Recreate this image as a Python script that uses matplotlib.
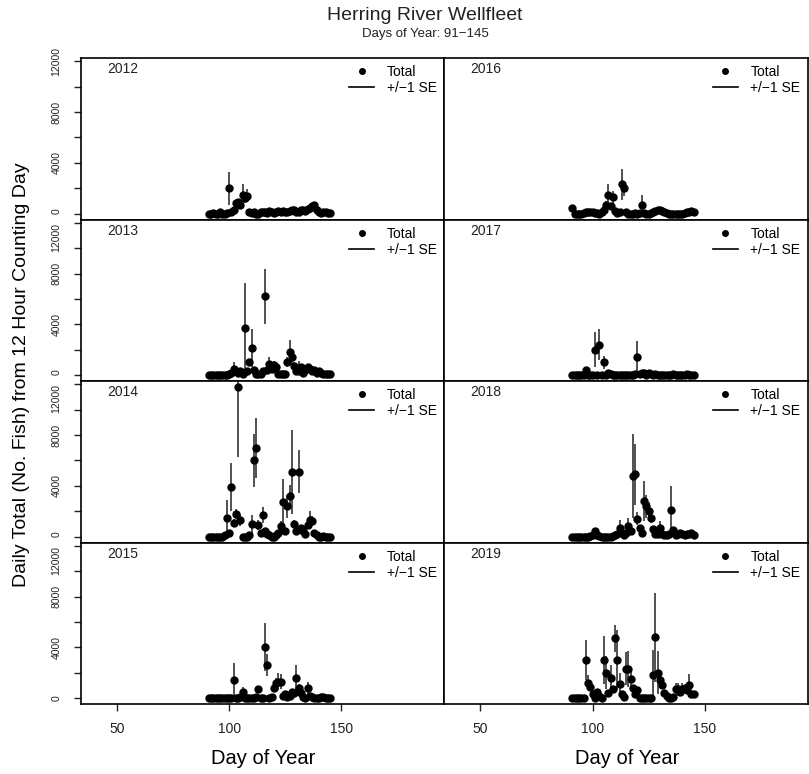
import matplotlib
matplotlib.use("Agg")
import matplotlib.pyplot as plt
from matplotlib.lines import Line2D

plt.rcParams['font.family'] = ['Liberation Sans', 'DejaVu Sans']

# day of year 91..145, one count per day
days = list(range(91, 146))

total_2012 = [0, 0, 50, 0, 0, 100, 0, 0, 50, 2000, 100,
              300, 800, 900, 700, 1500, 1200, 1400, 100, 50, 100, 0,
              0, 100, 150, 100, 50, 200, 100, 50, 150, 200, 100,
              200, 150, 100, 200, 300, 250, 100, 150, 250, 300, 200,
              350, 450, 600, 650, 300, 100, 50, 150, 100, 80, 50]
se_2012 = [0, 0, 0, 0, 0, 0, 0, 0, 0, 1300, 0,
           100, 300, 200, 200, 800, 400, 500, 0, 0, 0, 0,
           0, 0, 50, 0, 0, 50, 0, 0, 0, 50, 0,
           50, 0, 0, 50, 100, 50, 0, 0, 50, 100, 50,
           100, 100, 150, 100, 50, 0, 0, 0, 0, 0, 0]

total_2013 = [0, 0, 0, 0, 0, 0, 0, 0, 0, 100, 200,
              500, 300, 200, 300, 100, 3700, 300, 1000, 2100, 400, 100,
              50, 100, 300, 6200, 400, 900, 500, 800, 600, 100, 50,
              100, 100, 1000, 1800, 1400, 700, 300, 500, 600, 200, 400,
              600, 500, 300, 400, 200, 300, 200, 100, 50, 100, 50]
se_2013 = [0, 0, 0, 0, 0, 0, 0, 0, 0, 0, 100,
           500, 200, 100, 100, 0, 3600, 200, 300, 1500, 200, 0,
           0, 0, 100, 2150, 300, 500, 200, 300, 200, 0, 0,
           0, 0, 400, 1000, 600, 300, 100, 600, 200, 100, 200,
           300, 200, 100, 200, 100, 100, 0, 0, 0, 0, 0]

total_2014 = [0, 0, 0, 0, 0, 0, 0, 100, 1500, 300, 3900,
              1100, 1800, 11800, 1300, 0, 0, 0, 100, 1000, 6000, 7000,
              900, 300, 1700, 400, 200, 100, 0, 0, 100, 300, 800,
              2700, 400, 2400, 3200, 5100, 1000, 400, 5100, 700, 400, 200,
              900, 1300, 1200, 300, 100, 0, 0, 50, 0, 0, 0]
se_2014 = [0, 0, 0, 0, 0, 0, 0, 0, 1400, 0, 1900,
           300, 400, 5500, 500, 0, 0, 0, 0, 700, 2100, 2350,
           400, 100, 600, 0, 0, 0, 0, 0, 0, 0, 400,
           1800, 100, 900, 900, 3300, 300, 100, 1700, 200, 100, 0,
           300, 700, 400, 0, 0, 0, 0, 0, 0, 0, 0]

total_2015 = [0, 0, 0, 0, 0, 0, 0, 0, 0, 0, 0,
              1400, 0, 0, 100, 500, 0, 0, 0, 0, 0, 100,
              700, 0, 0, 4000, 2600, 0, 100, 800, 1200, 1300, 1300,
              200, 300, 100, 200, 500, 400, 1600, 800, 400, 100, 0,
              800, 200, 100, 0, 0, 0, 50, 100, 0, 0, 0]
se_2015 = [0, 0, 0, 0, 0, 0, 0, 0, 0, 0, 0,
           1400, 0, 0, 0, 400, 0, 0, 0, 0, 0, 0,
           100, 0, 0, 1900, 900, 0, 0, 300, 400, 700, 600,
           0, 0, 0, 0, 100, 0, 1000, 300, 0, 0, 0,
           500, 0, 0, 0, 0, 0, 0, 0, 0, 0, 0]

total_2016 = [400, 0, 0, 0, 0, 50, 100, 150, 150, 100, 50,
              50, 0, 100, 300, 700, 1500, 600, 1300, 200, 50, 100,
              2300, 2000, 100, 0, 0, 0, 50, 0, 50, 700, 50,
              0, 0, 50, 100, 200, 300, 300, 200, 100, 50, 0,
              0, 0, 0, 0, 0, 0, 50, 100, 100, 200, 100]
se_2016 = [0, 0, 0, 0, 0, 0, 0, 0, 0, 0, 0,
           0, 0, 0, 100, 300, 800, 200, 500, 0, 0, 0,
           1200, 600, 0, 0, 0, 0, 0, 0, 0, 800, 0,
           0, 0, 0, 0, 0, 0, 0, 0, 0, 0, 0,
           0, 0, 0, 0, 0, 0, 0, 0, 0, 0, 0]

total_2017 = [0, 0, 0, 0, 0, 0, 400, 0, 0, 0, 2000,
              0, 2400, 0, 1000, 0, 200, 100, 0, 0, 0, 0,
              0, 0, 0, 0, 0, 0, 50, 1400, 100, 200, 150,
              0, 150, 100, 0, 50, 0, 0, 0, 0, 0, 0,
              0, 50, 0, 0, 0, 0, 0, 50, 0, 0, 0]
se_2017 = [0, 0, 0, 0, 0, 0, 100, 0, 0, 0, 1400,
           0, 1200, 0, 500, 0, 0, 0, 0, 0, 0, 0,
           0, 0, 0, 0, 0, 0, 0, 1300, 0, 0, 0,
           0, 0, 0, 0, 0, 0, 0, 0, 0, 0, 0,
           0, 0, 0, 0, 0, 0, 0, 0, 0, 0, 0]

total_2018 = [0, 0, 0, 0, 0, 0, 0, 0, 50, 100, 400,
              100, 50, 0, 0, 0, 0, 0, 50, 100, 200, 700,
              300, 100, 300, 850, 400, 4800, 4900, 1400, 700, 300, 2800,
              2400, 2000, 1500, 600, 200, 200, 700, 200, 100, 100, 200,
              2100, 500, 100, 200, 300, 200, 100, 200, 200, 300, 100]
se_2018 = [0, 0, 0, 0, 0, 0, 0, 0, 0, 0, 200,
           0, 0, 0, 0, 0, 0, 0, 0, 0, 0, 600,
           0, 0, 0, 600, 0, 3300, 2400, 500, 200, 0, 1600,
           900, 700, 400, 0, 0, 0, 500, 0, 0, 0, 0,
           1900, 0, 0, 0, 0, 0, 0, 0, 0, 0, 0]

total_2019 = [0, 0, 0, 0, 0, 0, 3000, 1200, 900, 300, 0,
              500, 200, 0, 3000, 2000, 400, 1600, 700, 4700, 3000, 1100,
              300, 100, 2300, 2300, 1500, 800, 300, 600, 0, 0, 0,
              0, 0, 0, 1800, 4800, 2000, 1400, 1000, 400, 200, 0,
              0, 100, 700, 700, 500, 700, 800, 600, 1000, 300, 300]
se_2019 = [0, 0, 0, 0, 0, 0, 1600, 600, 300, 0, 0,
           200, 0, 0, 1900, 1300, 0, 1000, 0, 1100, 2400, 900,
           0, 0, 1300, 1400, 600, 0, 0, 0, 0, 0, 0,
           0, 0, 0, 2000, 3500, 1700, 400, 0, 0, 0, 0,
           0, 0, 500, 500, 0, 500, 0, 0, 900, 0, 0]

# left column 2012-2015, right column 2016-2019
left_col = [(2012, total_2012, se_2012), (2013, total_2013, se_2013),
            (2014, total_2014, se_2014), (2015, total_2015, se_2015)]
right_col = [(2016, total_2016, se_2016), (2017, total_2017, se_2017),
             (2018, total_2018, se_2018), (2019, total_2019, se_2019)]

fig, axes = plt.subplots(4, 2, figsize=(8.09, 7.74), dpi=100)
fig.subplots_adjust(left=81/809, right=808/809, bottom=1 - 704/774, top=1 - 58/774,
                    wspace=0, hspace=0)

for col, panels in enumerate([left_col, right_col]):
    for row, (year, tot, se) in enumerate(panels):
        ax = axes[row, col]
        ax.errorbar(days, tot, yerr=se, fmt='o', ms=5, color='black',
                    ecolor='#333333', elinewidth=1.2, capsize=0)
        ax.set_xlim(34, 196)
        ax.set_ylim(-470, 12270)
        ax.set_xticks([50, 100, 150])
        ax.set_yticks(range(0, 12001, 2000))
        ax.set_yticklabels(['0', '', '4000', '', '8000', '', '12000'],
                           rotation=90, va='center')
        ax.tick_params(axis='y', direction='out', length=5, width=1,
                       labelsize=7.5, pad=9, colors='#222222')
        ax.tick_params(axis='x', direction='out', length=5, width=1,
                       labelsize=10, pad=8, colors='#222222')
        for sp in ax.spines.values():
            sp.set_linewidth(1.2)
        if col == 1:
            ax.tick_params(axis='y', left=False, labelleft=False)
        else:
            # panels are stacked tight: nudge the end labels apart at the joins
            yt = ax.yaxis.get_major_ticks()
            if row < 3:
                yt[0].label1.set_va('bottom')
            if row > 0:
                yt[-1].label1.set_va('top')
        if row < 3:
            ax.tick_params(axis='x', bottom=False, labelbottom=False)

        ax.text(0.071, 0.93, str(year), transform=ax.transAxes, fontsize=10,
                ha='left', va='center', color='#222222')
        handles = [Line2D([], [], marker='o', ls='none', color='black', ms=4),
                   Line2D([], [], color='black', lw=1.2)]
        ax.legend(handles, ['Total', '+/\u22121 SE'], loc='upper left',
                  bbox_to_anchor=(0.738, 0.955), frameon=False, fontsize=10,
                  handlelength=1.8, handletextpad=0.9, labelspacing=0.15,
                  borderpad=0, borderaxespad=0)

fig.text(425/809, 1 - 16/774, 'Herring River Wellfleet', ha='center', va='center',
         fontsize=14, color='#222222')
fig.text(425/809, 1 - 34/774, 'Days of Year: 91\u2212145', ha='center', va='center',
         fontsize=9.5, color='#222222')
fig.text(263/809, 1 - 759/774, 'Day of Year', ha='center', va='center', fontsize=14.5)
fig.text(627/809, 1 - 759/774, 'Day of Year', ha='center', va='center', fontsize=14.5)
fig.text(22/809, 1 - 375/774, 'Daily Total (No. Fish) from 12 Hour Counting Day',
         ha='center', va='center', rotation=90, fontsize=14)

fig.savefig('out.png', dpi=100)
